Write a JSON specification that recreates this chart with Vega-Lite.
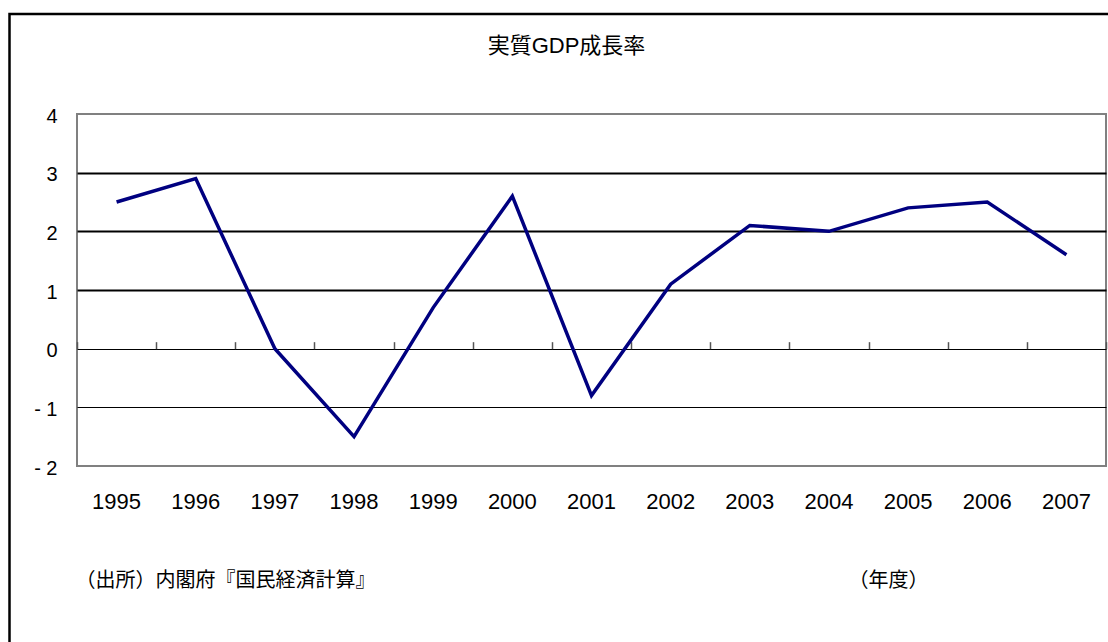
{
  "$schema": "https://vega.github.io/schema/vega-lite/v6.json",
  "width": 1029,
  "height": 352,
  "autosize": {"type": "none"},
  "padding": {"left": 77, "top": 114, "right": 2, "bottom": 176},
  "background": "white",
  "config": {
    "view": {"stroke": "#808080", "strokeWidth": 2},
    "font": "Liberation Sans, Noto Sans CJK JP"
  },
  "title": {
    "text": "実質GDP成長率",
    "font": "Liberation Sans, Noto Sans CJK JP",
    "fontSize": 22,
    "fontWeight": "normal",
    "color": "black",
    "anchor": "middle",
    "frame": "group",
    "baseline": "alphabetic",
    "dx": -25,
    "offset": -62.5
  },
  "data": {
    "values": [
      {"year": "1995", "growth": 2.5},
      {"year": "1996", "growth": 2.9},
      {"year": "1997", "growth": 0.0},
      {"year": "1998", "growth": -1.5},
      {"year": "1999", "growth": 0.7},
      {"year": "2000", "growth": 2.6},
      {"year": "2001", "growth": -0.8},
      {"year": "2002", "growth": 1.1},
      {"year": "2003", "growth": 2.1},
      {"year": "2004", "growth": 2.0},
      {"year": "2005", "growth": 2.4},
      {"year": "2006", "growth": 2.5},
      {"year": "2007", "growth": 1.6}
    ]
  },
  "layer": [
    {
      "data": {"values": [{}]},
      "mark": {"type": "rect", "fill": null, "stroke": "black", "strokeWidth": 2.5},
      "encoding": {
        "x": {"value": -67.5},
        "x2": {"value": 1100},
        "y": {"value": -100},
        "y2": {"value": 600}
      }
    },
    {
      "mark": {"type": "point", "opacity": 0},
      "encoding": {
        "x": {
          "field": "year",
          "type": "ordinal",
          "scale": {"type": "band", "paddingInner": 0, "paddingOuter": 0},
          "axis": {
            "orient": "top",
            "offset": -234.67,
            "labels": false,
            "domain": false,
            "grid": false,
            "ticks": true,
            "tickBand": "extent",
            "tickSize": 7,
            "tickColor": "#555555",
            "tickWidth": 1.5,
            "title": null
          }
        }
      }
    },
    {
      "mark": {"type": "line", "color": "#000080", "strokeWidth": 3.5},
      "encoding": {
        "x": {
          "field": "year",
          "type": "ordinal",
          "bandPosition": 0.5,
          "scale": {"type": "band", "paddingInner": 0, "paddingOuter": 0},
          "axis": {
            "orient": "bottom",
            "domain": false,
            "ticks": false,
            "tickSize": 0,
            "grid": false,
            "labelAngle": 0,
            "labelFontSize": 22,
            "labelColor": "black",
            "labelPadding": 25,
            "title": "（年度）",
            "titleFont": "Liberation Sans, Noto Sans CJK JP",
            "titleFontSize": 20,
            "titleFontWeight": "normal",
            "titleColor": "black",
            "titleAlign": "left",
            "titleBaseline": "middle",
            "titleX": 771,
            "titleY": 114
          }
        },
        "y": {
          "field": "growth",
          "type": "quantitative",
          "scale": {"domain": [-2, 4], "nice": false, "zero": false},
          "axis": {
            "values": [-2, -1, 0, 1, 2, 3, 4],
            "domain": false,
            "ticks": false,
            "tickSize": 0,
            "grid": true,
            "gridColor": {"condition": {"test": "datum.value > -2 && datum.value < 4", "value": "black"}, "value": "transparent"},
            "gridWidth": {"condition": {"test": "datum.value > 0", "value": 2}, "value": 1},
            "gridOpacity": 1,
            "labelFontSize": 20,
            "labelColor": "black",
            "labelPadding": 20,
            "labelOffset": 2,
            "labelExpr": "datum.value < 0 ? '- ' + (-datum.value) : datum.label",
            "title": "（出所）内閣府『国民経済計算』",
            "titleAngle": 0,
            "titleFont": "Liberation Sans, Noto Sans CJK JP",
            "titleFontSize": 20,
            "titleFontWeight": "normal",
            "titleColor": "black",
            "titleAlign": "left",
            "titleBaseline": "middle",
            "titleX": -2,
            "titleY": 466
          }
        }
      }
    }
  ],
  "resolve": {"axis": {"x": "independent"}}
}
